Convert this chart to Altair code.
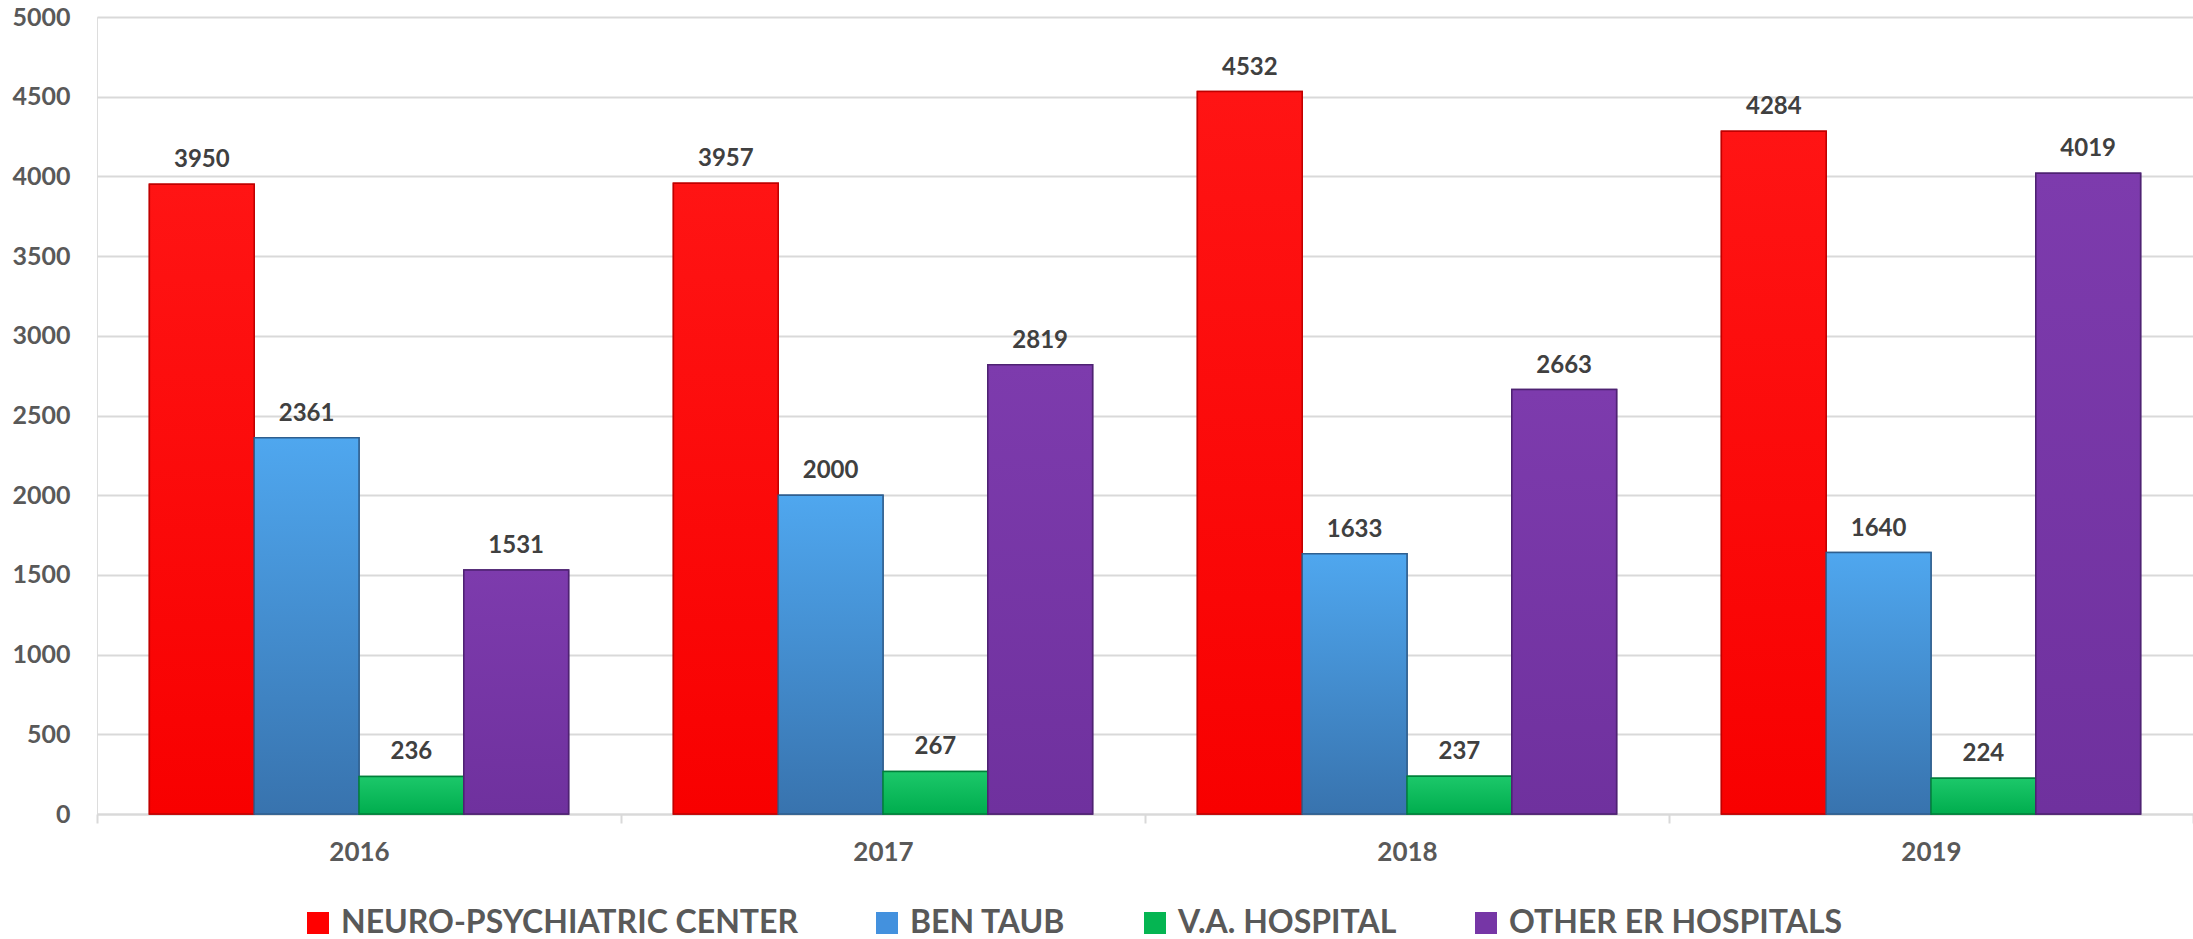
import altair as alt
import pandas as pd

# Annual counts by facility
years = ["2016", "2017", "2018", "2019"]
series = ["NEURO-PSYCHIATRIC CENTER", "BEN TAUB", "V.A. HOSPITAL", "OTHER ER HOSPITALS"]
neuro_psychiatric = [3950, 3957, 4532, 4284]
ben_taub = [2361, 2000, 1633, 1640]
va_hospital = [236, 267, 237, 224]
other_er = [1531, 2819, 2663, 4019]

flat_colors = ["#ff0000", "#4391de", "#05b552", "#7636a6"]
edge_colors = ["#c00000", "#2f5f8f", "#00803a", "#4e2272"]
gradient_stops = [
    ("#ff1414", "#f80000"),
    ("#4fa7ef", "#3873ae"),
    ("#1cc86a", "#00ad4e"),
    ("#7d3bad", "#6f319e"),
]

rows = []
for name, vals in zip(series, [neuro_psychiatric, ben_taub, va_hospital, other_er]):
    for yr, v in zip(years, vals):
        rows.append({"year": yr, "series": name, "value": v})
df = pd.DataFrame(rows)

FONT = "Lato"

x_enc = alt.X(
    "year:N",
    sort=years,
    title=None,
    scale=alt.Scale(paddingInner=0, paddingOuter=0),
    axis=alt.Axis(
        labelAngle=0,
        labelFont=FONT,
        labelFontSize=26,
        labelFontWeight="bold",
        labelColor="#595959",
        labelPadding=16,
        tickBand="extent",
        ticks=True,
        tickSize=9,
        tickColor="#d9d9d9",
        tickWidth=2,
        domain=True,
        domainColor="#d9d9d9",
        domainWidth=2,
        grid=False,
    ),
)
y_enc = alt.Y(
    "value:Q",
    title=None,
    scale=alt.Scale(domain=[0, 5000], nice=False),
    axis=alt.Axis(
        values=list(range(0, 5001, 500)),
        format="d",
        labelFont=FONT,
        labelFontSize=25,
        labelFontWeight="bold",
        labelColor="#595959",
        labelPadding=27,
        ticks=False,
        domain=False,
        grid=True,
        gridColor="#d9d9d9",
        gridWidth=2,
    ),
)
off_enc = alt.XOffset(
    "series:N",
    sort=series,
    scale=alt.Scale(domain=series, paddingInner=0, paddingOuter=0.5),
)

base = alt.Chart(df)

bars = base.mark_bar(strokeWidth=1.5).encode(
    x=x_enc,
    y=y_enc,
    xOffset=off_enc,
    color=alt.Color(
        "series:N",
        sort=series,
        scale=alt.Scale(domain=series, range=flat_colors),
        title=None,
        legend=alt.Legend(
            orient="none",
            direction="horizontal",
            legendX=205,
            legendY=890,
            columns=4,
            symbolType="square",
            symbolSize=484,
            symbolStrokeWidth=0,
            labelFont=FONT,
            labelFontSize=32,
            labelFontWeight="bold",
            labelColor="#595959",
            labelLimit=1000,
            labelOffset=7,
            columnPadding=73,
        ),
    ),
    stroke=alt.Stroke(
        "series:N",
        sort=series,
        scale=alt.Scale(domain=series, range=edge_colors),
        legend=None,
    ),
)

# Vertical shading on top of each series' bars
shades = []
for name, (top, bottom), edge in zip(series, gradient_stops, edge_colors):
    shades.append(
        base.transform_filter(alt.datum.series == name)
        .mark_bar(
            color=alt.Gradient(
                gradient="linear",
                stops=[
                    alt.GradientStop(color=top, offset=0),
                    alt.GradientStop(color=bottom, offset=1),
                ],
                x1=0, x2=0, y1=0, y2=1,
            ),
            stroke=edge,
            strokeWidth=1.5,
        )
        .encode(x=x_enc, y=y_enc, xOffset=off_enc)
    )

labels = base.mark_text(
    font=FONT,
    fontSize=24,
    fontWeight="bold",
    color="#404040",
    baseline="alphabetic",
    dy=-17,
).encode(
    x=x_enc,
    y=y_enc,
    xOffset=off_enc,
    text=alt.Text("value:Q", format="d"),
)

chart = (
    alt.layer(bars, *shades, labels)
    .properties(
        width=2096,
        height=797,
        autosize=alt.AutoSizeParams(type="none"),
        padding={"left": 97, "top": 17, "right": 0, "bottom": 125},
    )
    .configure_view(stroke=None)
    .configure(background="white")
)

chart.save("out.html", embed_options={"renderer": "svg", "actions": False})
